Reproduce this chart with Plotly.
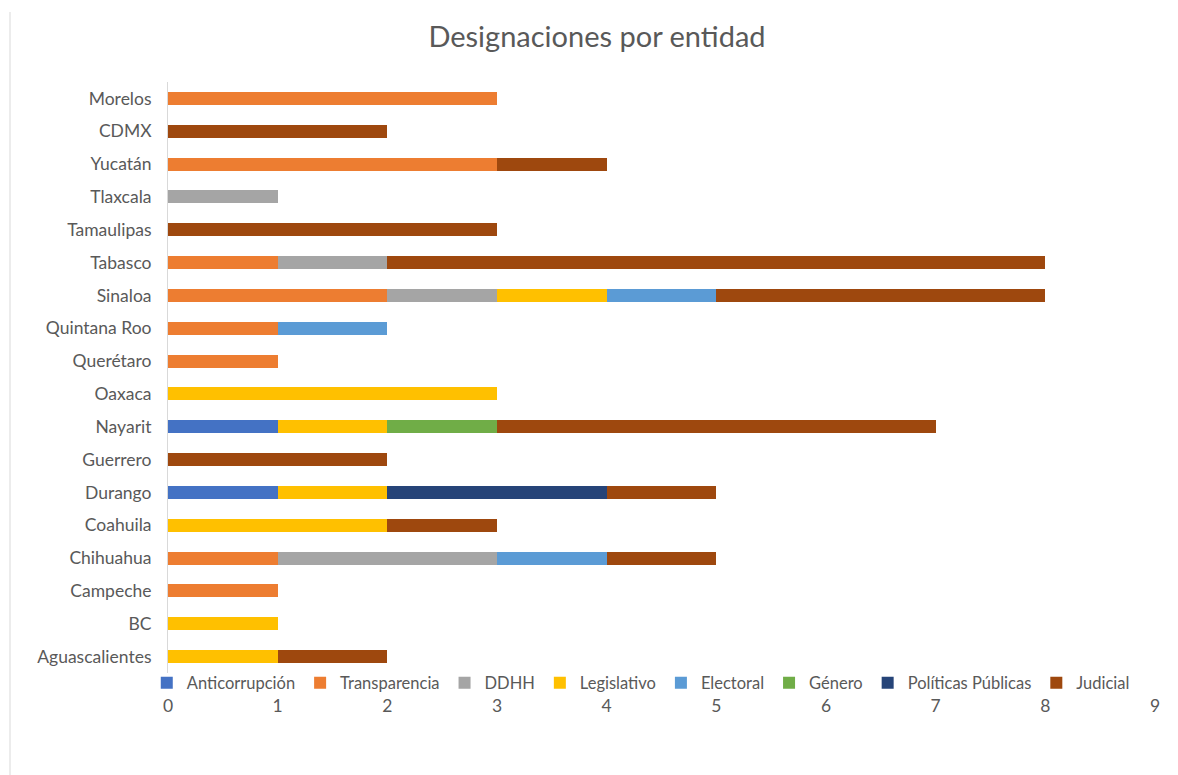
import plotly.graph_objects as go

entidades = ["Aguascalientes", "BC", "Campeche", "Chihuahua", "Coahuila", "Durango",
             "Guerrero", "Nayarit", "Oaxaca", "Querétaro", "Quintana Roo", "Sinaloa",
             "Tabasco", "Tamaulipas", "Tlaxcala", "Yucatán", "CDMX", "Morelos"]

anticorrupcion = [0, 0, 0, 0, 0, 1, 0, 1, 0, 0, 0, 0, 0, 0, 0, 0, 0, 0]
transparencia  = [0, 0, 1, 1, 0, 0, 0, 0, 0, 1, 1, 2, 1, 0, 0, 3, 0, 3]
ddhh           = [0, 0, 0, 2, 0, 0, 0, 0, 0, 0, 0, 1, 1, 0, 1, 0, 0, 0]
legislativo    = [1, 1, 0, 0, 2, 1, 0, 1, 3, 0, 0, 1, 0, 0, 0, 0, 0, 0]
electoral      = [0, 0, 0, 1, 0, 0, 0, 0, 0, 0, 1, 1, 0, 0, 0, 0, 0, 0]
genero         = [0, 0, 0, 0, 0, 0, 0, 1, 0, 0, 0, 0, 0, 0, 0, 0, 0, 0]
politicas      = [0, 0, 0, 0, 0, 2, 0, 0, 0, 0, 0, 0, 0, 0, 0, 0, 0, 0]
judicial       = [1, 0, 0, 1, 1, 1, 2, 4, 0, 0, 0, 3, 6, 3, 0, 1, 2, 0]

series = [
    ("Anticorrupción", anticorrupcion, "#4472C4"),
    ("Transparencia", transparencia, "#ED7D31"),
    ("DDHH", ddhh, "#A5A5A5"),
    ("Legislativo", legislativo, "#FFC000"),
    ("Electoral", electoral, "#5B9BD5"),
    ("Género", genero, "#70AD47"),
    ("Políticas Públicas", politicas, "#264478"),
    ("Judicial", judicial, "#9E480E"),
]

x_ticks = list(range(0, 10))

fig = go.Figure()
for name, vals, color in series:
    fig.add_trace(go.Bar(
        y=entidades, x=vals, name=name, orientation="h",
        marker=dict(color=color, line=dict(width=0)),
    ))

W, H = 1170, 767
L, R, T, B = 160, 23, 74, 102
PW, PH = W - L - R, H - T - B

font_family = "Lato, 'Open Sans', sans-serif"
fig.update_layout(
    barmode="stack",
    bargap=0.6,
    width=W, height=H,
    paper_bgcolor="white", plot_bgcolor="white",
    margin=dict(l=L, r=R, t=T, b=B),
    title=dict(text="Designaciones por entidad", x=(597 - 8) / W, xref="container", xanchor="center",
               y=1 - 29 / H, yref="container", yanchor="middle",
               font=dict(size=29, color="#595959", family=font_family)),
    font=dict(family=font_family, color="#595959", size=17.5),
    showlegend=True,
    legend=dict(orientation="h", x=0.479, xanchor="center", y=-10 / PH, yanchor="middle",
                font=dict(size=16.5, color="#595959"), traceorder="normal",
                bgcolor="rgba(0,0,0,0)", tracegroupgap=0),
    xaxis=dict(range=[0, 9], tickvals=x_ticks, showgrid=False, zeroline=False,
               showline=False, ticks="", ticklabelstandoff=20,
               tickfont=dict(size=17.5, color="#595959")),
    yaxis=dict(categoryorder="array", categoryarray=entidades, showgrid=False,
               showline=True, linecolor="#D9D9D9", linewidth=1, ticks="",
               ticklabelstandoff=12, tickfont=dict(size=17.5, color="#595959"),
               zeroline=False),
    shapes=[dict(type="line", xref="paper", yref="paper",
                 x0=(2 - L) / PW, x1=(2 - L) / PW,
                 y0=(H - 4 - B) / PH, y1=-B / PH,
                 line=dict(color="#D9D9D9", width=1))],
)

fig.write_html("out.html")
